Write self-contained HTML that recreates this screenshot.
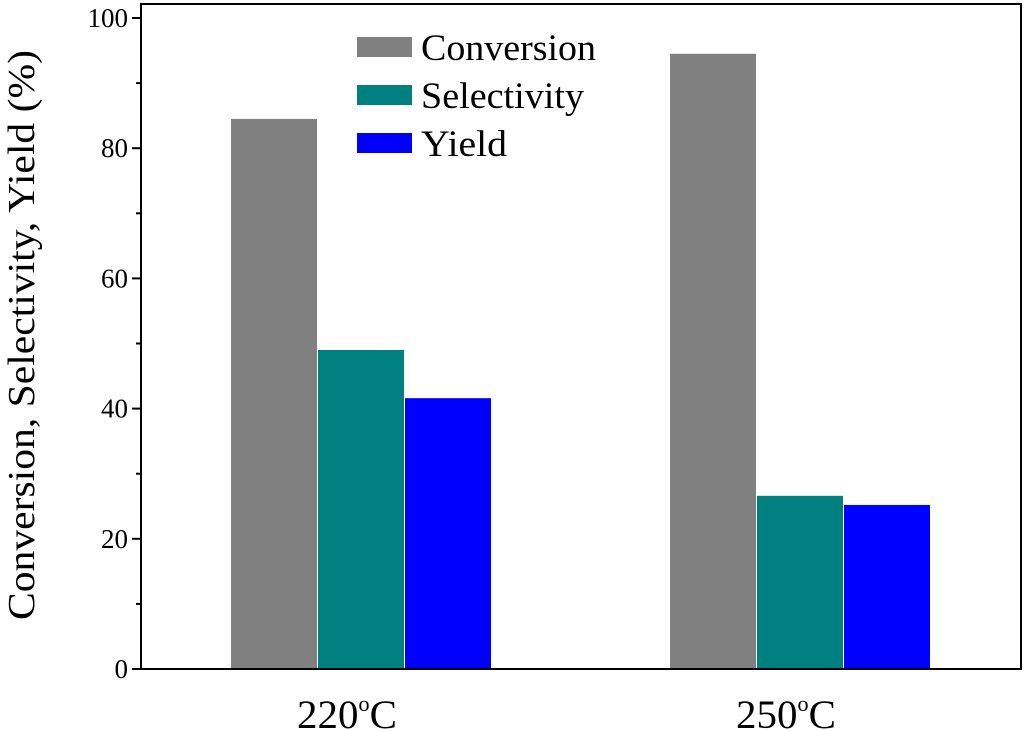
<!DOCTYPE html>
<html><head><meta charset="utf-8"><style>
html,body{margin:0;padding:0;background:#fff;}
svg{display:block;font-family:"Liberation Serif",serif;}
</style></head><body>
<svg id="chart" width="1024" height="731" viewBox="0 0 1024 731">
<g id="plot"></g>
</svg>
<script>
const categories = ["220", "250"];
const seriesNames = ["Conversion", "Selectivity", "Yield"];
const conversion = [84.5, 94.5];
const selectivity = [49.0, 26.6];
const yieldVals = [41.6, 25.2];
const yTicks = [0, 20, 40, 60, 80, 100];
const colors = ["#808080", "#008080", "#0000ff"];

const NS = "http://www.w3.org/2000/svg";
const g = document.getElementById("plot");
const L = 141, R = 1021, T = 4, B = 669;
const y = v => B - v * 6.51;
const groupCenter = i => [361, 800][i];
const barW = 86;
function mk(tag, attrs, parent) {
  const e = document.createElementNS(NS, tag);
  for (const k in attrs) e.setAttribute(k, attrs[k]);
  (parent || g).appendChild(e);
  return e;
}
const series = [conversion, selectivity, yieldVals];
series.forEach((vals, s) => {
  vals.forEach((v, i) => {
    const x = groupCenter(i) - 1.5 * barW - 1 + s * (barW + 1);
    const r = mk("rect", {x: x, y: y(v), width: barW, height: B - y(v), fill: colors[s]});
    
    
  });
});
const frame = mk("rect", {x: L, y: T, width: R - L, height: B - T, fill: "none", stroke: "#000", "stroke-width": 2});


for (let v = 0; v <= 100; v += 10) {
  const major = v % 20 === 0;
  const t = mk("line", {x1: L - (major ? 9 : 5), x2: L, y1: y(v), y2: y(v), stroke: "#000", "stroke-width": 2});
  
  
}
yTicks.forEach(v => {
  const t = mk("text", {x: 128, y: y(v) + 9, "text-anchor": "end", "font-size": 27, transform: "scale(1,1)"});
  t.textContent = v;
  
  
});
categories.forEach((c, i) => {
  const t = mk("text", {x: groupCenter(i) - 64, y: 728, "font-size": 40, textLength: 100, lengthAdjust: "spacingAndGlyphs"});
  t.innerHTML = c + '<tspan font-size="22" dy="-17">o</tspan><tspan dy="17">C</tspan>';
  
  
});
const yt = mk("text", {x: 0, y: 0, "text-anchor": "middle", "font-size": 38, textLength: 570, lengthAdjust: "spacingAndGlyphs", transform: "translate(34,335) rotate(-90)"});
yt.textContent = "Conversion, Selectivity, Yield (%)";


const legendLens = [175, 163, 86];
seriesNames.forEach((n, s) => {
  const cy = 47 + s * 48;
  const r = mk("rect", {x: 357, y: cy - 10, width: 55, height: 20, fill: colors[s]});
  
  
  const t = mk("text", {x: 421, y: cy + 13, "font-size": 37, textLength: legendLens[s], lengthAdjust: "spacingAndGlyphs"});
  t.textContent = n;
  
  
});
</script>
</body></html>
